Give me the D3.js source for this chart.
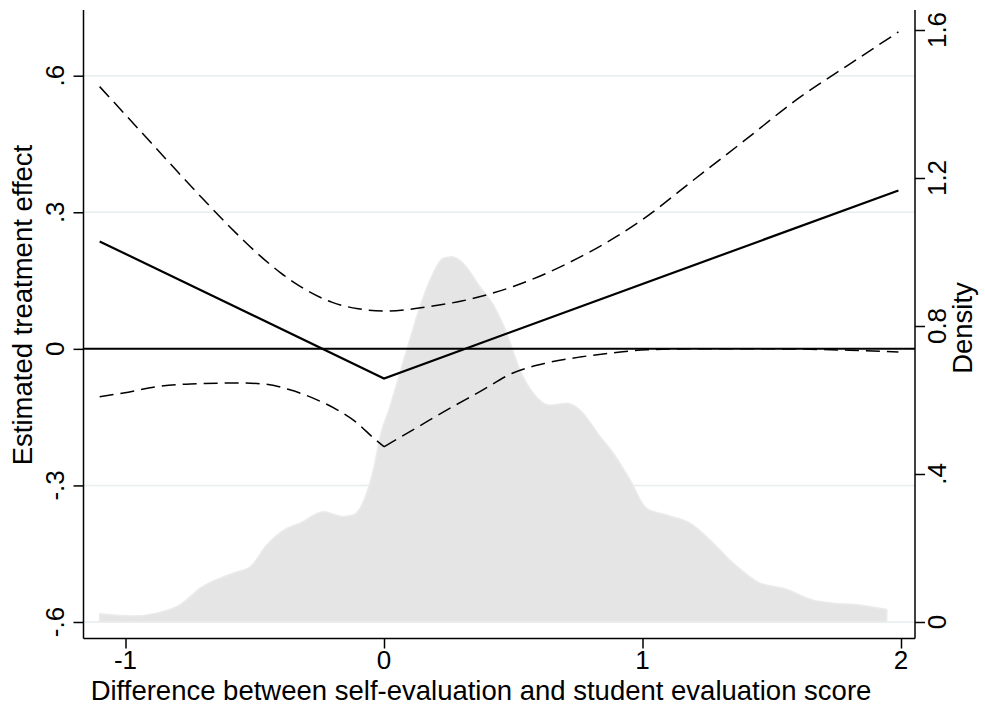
<!DOCTYPE html>
<html>
<head>
<meta charset="utf-8">
<script src="https://cdn.jsdelivr.net/npm/d3@7"></script>
<style>
  html, body { margin: 0; padding: 0; background: #fff; }
  svg { display: block; font-family: "Liberation Sans", Arial, Helvetica, sans-serif; }
</style>
</head>
<body>
<svg id="chart" width="985" height="706"></svg>
<script>
// ---------------- data ----------------
const xTicks = [-1, 0, 1, 2];
const xTickLabels = ["-1", "0", "1", "2"];
const yLeftTicks = [-0.6, -0.3, 0, 0.3, 0.6];
const yLeftTickLabels = ["-.6", "-.3", "0", ".3", ".6"];
const yRightTicks = [0, 0.4, 0.8, 1.2, 1.6];
const yRightTickLabels = ["0", ".4", "0.8", "1.2", "1.6"];

const xTitle = "Difference between self-evaluation and student evaluation score";
const yLeftTitle = "Estimated treatment effect";
const yRightTitle = "Density";

// estimated treatment effect (solid)
const effectX = [-1.1, 0, 1.99];
const effectY = [0.236, -0.065, 0.348];

// upper confidence band (dashed)
const upperX = [-1.1, -1.0, -0.9, -0.8, -0.7, -0.6, -0.5, -0.4, -0.3, -0.2, -0.1, 0, 0.1, 0.2, 0.3, 0.4, 0.5, 0.6, 0.7, 0.8, 0.9, 1.0, 1.2, 1.4, 1.6, 1.8, 1.99];
const upperY = [0.576, 0.514, 0.452, 0.390, 0.329, 0.270, 0.215, 0.167, 0.129, 0.102, 0.088, 0.083, 0.087, 0.095, 0.105, 0.119, 0.137, 0.159, 0.185, 0.214, 0.247, 0.284, 0.372, 0.46, 0.549, 0.625, 0.696];

// lower confidence band (dashed), kinked at 0
const lowerX = [-1.1, -1.008, -0.876, -0.749, -0.568, -0.467, -0.364, -0.259, -0.181, -0.104, -0.042, 0, 0.112, 0.244, 0.371, 0.499, 0.63, 0.758, 0.886, 1.015, 1.2, 1.5, 1.8, 1.99];
const lowerY = [-0.105, -0.097, -0.083, -0.077, -0.075, -0.077, -0.09, -0.112, -0.134, -0.163, -0.195, -0.215, -0.178, -0.134, -0.094, -0.053, -0.031, -0.018, -0.009, -0.002, 0.0, 0.0, -0.003, -0.007];

// kernel density of the difference (grey area, right axis)
const densX = [-1.1, -0.97, -0.879, -0.789, -0.712, -0.584, -0.518, -0.454, -0.376, -0.325, -0.235, -0.157, -0.119, -0.067, -0.041, -0.015, 0.023, 0.088, 0.139, 0.178, 0.229, 0.262, 0.307, 0.371, 0.423, 0.475, 0.526, 0.578, 0.642, 0.707, 0.758, 0.836, 0.887, 0.952, 1.016, 1.094, 1.184, 1.274, 1.351, 1.455, 1.545, 1.661, 1.738, 1.841, 1.945];
const densY = [0.022, 0.016, 0.024, 0.046, 0.091, 0.132, 0.149, 0.208, 0.253, 0.267, 0.298, 0.285, 0.289, 0.348, 0.411, 0.501, 0.582, 0.735, 0.852, 0.924, 0.983, 0.987, 0.969, 0.906, 0.857, 0.78, 0.681, 0.618, 0.586, 0.591, 0.573, 0.501, 0.456, 0.384, 0.307, 0.289, 0.267, 0.213, 0.159, 0.105, 0.091, 0.059, 0.051, 0.046, 0.034];

// ---------------- layout ----------------
const svg = d3.select("#chart");
const axL = 83.5, axR = 915, axTop = 10, axBottom = 638.5;
const FS_TICK = 26, FS_TITLE = 27.5;

const x = d3.scaleLinear().domain([-1, 2]).range([125.5, 901]);
const yL = d3.scaleLinear().domain([-0.6, 0.6]).range([622, 75.7]);
const yR = d3.scaleLinear().domain([0, 1.6]).range([622, 30]);

const zip = (a, b) => a.map((v, i) => [v, b[i]]);

// grid lines (left axis)
svg.append("g").selectAll("line")
  .data(yLeftTicks.filter(d => d !== 0))
  .join("line")
  .attr("x1", axL).attr("x2", axR)
  .attr("y1", d => yL(d)).attr("y2", d => yL(d))
  .attr("stroke", "#e6eef0").attr("stroke-width", 1.6);

// density area
const area = d3.area()
  .x(d => x(d[0])).y0(yR(0)).y1(d => yR(d[1]))
  .curve(d3.curveMonotoneX);
svg.append("path")
  .datum(zip(densX, densY))
  .attr("d", area)
  .attr("fill", "#e5e5e5")
  .attr("stroke", "#ebebeb").attr("stroke-width", 1.5);

// zero line
svg.append("line")
  .attr("x1", axL).attr("x2", axR)
  .attr("y1", yL(0)).attr("y2", yL(0))
  .attr("stroke", "#000").attr("stroke-width", 2);

const line = d3.line().x(d => x(d[0])).y(d => yL(d[1])).curve(d3.curveMonotoneX);
const lineLin = d3.line().x(d => x(d[0])).y(d => yL(d[1]));

// upper band
svg.append("path")
  .datum(zip(upperX, upperY))
  .attr("d", line)
  .attr("fill", "none").attr("stroke", "#000").attr("stroke-width", 1.5)
  .attr("stroke-dasharray", "14,7");

// lower band: two smooth pieces joined at the kink
const lowerPts = zip(lowerX, lowerY);
const kink = lowerX.indexOf(0);
svg.append("path")
  .datum(lowerPts.slice(0, kink + 1))
  .attr("d", line)
  .attr("fill", "none").attr("stroke", "#000").attr("stroke-width", 1.5)
  .attr("stroke-dasharray", "14,7");
svg.append("path")
  .datum(lowerPts.slice(kink))
  .attr("d", line)
  .attr("fill", "none").attr("stroke", "#000").attr("stroke-width", 1.5)
  .attr("stroke-dasharray", "14,7");

// effect line
svg.append("path")
  .datum(zip(effectX, effectY))
  .attr("d", lineLin)
  .attr("fill", "none").attr("stroke", "#000").attr("stroke-width", 2.2)
  .attr("stroke-linejoin", "miter");

// ---------------- axes ----------------
const axisColor = "#000";
// left axis
const gL = svg.append("g").attr("transform", `translate(${axL},0)`);
gL.call(d3.axisLeft(yL).tickValues(yLeftTicks).tickSize(10).tickFormat(""));
gL.select(".domain").attr("d", `M0,${axTop}V${axBottom}`).attr("stroke", axisColor).attr("stroke-width", 1.5);
gL.selectAll(".tick line").attr("stroke", axisColor).attr("stroke-width", 1.5);
yLeftTicks.forEach((t, i) => {
  svg.append("text")
    .attr("transform", `translate(64,${yL(t)}) rotate(-90)`)
    .attr("text-anchor", "middle")
    .attr("font-size", FS_TICK).attr("fill", "#000")
    .text(yLeftTickLabels[i]);
});

// right axis
const gR = svg.append("g").attr("transform", `translate(${axR},0)`);
gR.call(d3.axisRight(yR).tickValues(yRightTicks).tickSize(10).tickFormat(""));
gR.select(".domain").attr("d", `M0,${axTop}V${axBottom}`).attr("stroke", axisColor).attr("stroke-width", 1.5);
gR.selectAll(".tick line").attr("stroke", axisColor).attr("stroke-width", 1.5);
yRightTicks.forEach((t, i) => {
  svg.append("text")
    .attr("transform", `translate(946,${yR(t)}) rotate(-90)`)
    .attr("text-anchor", "middle")
    .attr("font-size", FS_TICK).attr("fill", "#000")
    .text(yRightTickLabels[i]);
});

// bottom axis
const gB = svg.append("g").attr("transform", `translate(0,${axBottom})`);
gB.call(d3.axisBottom(x).tickValues(xTicks).tickSize(10).tickFormat(""));
gB.select(".domain").attr("d", `M${axL},0H${axR}`).attr("stroke", axisColor).attr("stroke-width", 1.5);
gB.selectAll(".tick line").attr("stroke", axisColor).attr("stroke-width", 1.5);
xTicks.forEach((t, i) => {
  svg.append("text")
    .attr("x", x(t)).attr("y", 669)
    .attr("text-anchor", "middle")
    .attr("font-size", FS_TICK).attr("fill", "#000")
    .text(xTickLabels[i]);
});

// titles
svg.append("text")
  .attr("x", 481).attr("y", 699.5)
  .attr("text-anchor", "middle").attr("font-size", FS_TITLE).attr("fill", "#000")
  .text(xTitle);
svg.append("text")
  .attr("transform", "translate(32,305) rotate(-90)")
  .attr("text-anchor", "middle").attr("font-size", FS_TITLE).attr("fill", "#000")
  .text(yLeftTitle);
svg.append("text")
  .attr("transform", "translate(972,328) rotate(-90)")
  .attr("text-anchor", "middle").attr("font-size", FS_TITLE).attr("fill", "#000")
  .text(yRightTitle);
</script>
</body>
</html>
